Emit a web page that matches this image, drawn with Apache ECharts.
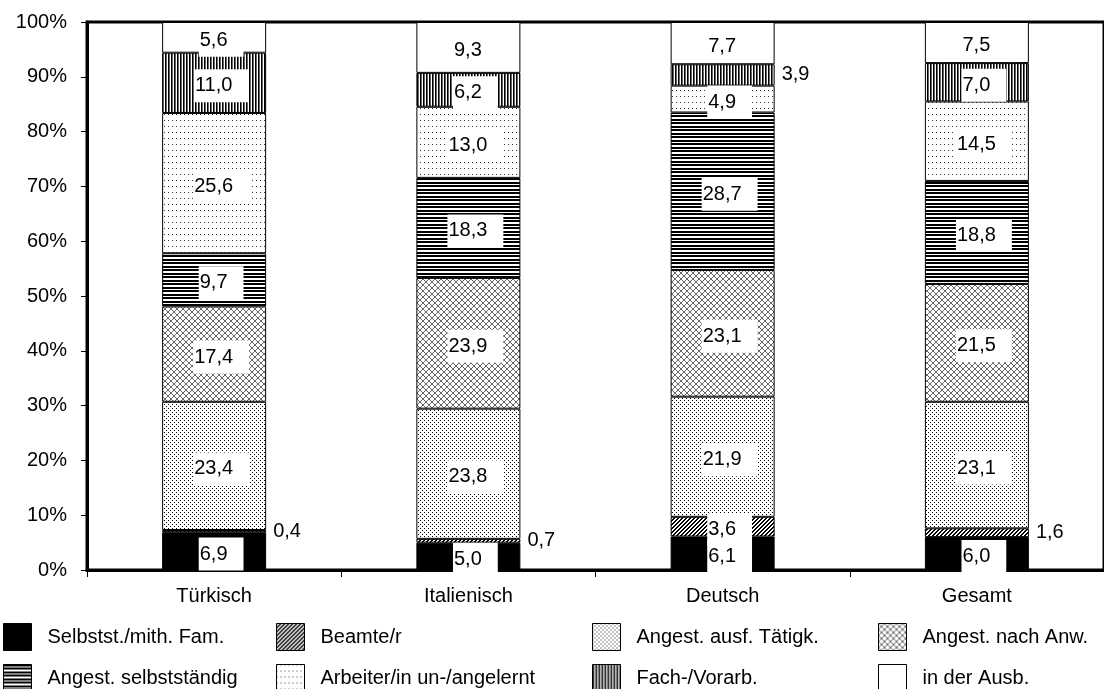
<!DOCTYPE html>
<html><head><meta charset="utf-8">
<script src="https://cdn.jsdelivr.net/npm/echarts@6/dist/echarts.min.js"></script>
<style>html,body{margin:0;padding:0;background:#fff}#c{width:1104px;height:689px}</style>
</head><body><div id="c"></div>
<script>
// ---- data ----
const categories = ['Türkisch', 'Italienisch', 'Deutsch', 'Gesamt'];
const seriesNames = ['Selbstst./mith. Fam.', 'Beamte/r', 'Angest. ausf. Tätigk.', 'Angest. nach Anw.',
  'Angest. selbstständig', 'Arbeiter/in un-/angelernt', 'Fach-/Vorarb.', 'in der Ausb.'];
const selbststaendige = [6.9, 5.0, 6.1, 6.0];
const beamte = [0.4, 0.7, 3.6, 1.6];
const angestAusf = [23.4, 23.8, 21.9, 23.1];
const angestNachAnw = [17.4, 23.9, 23.1, 21.5];
const angestSelbst = [9.7, 18.3, 28.7, 18.8];
const arbeiterUngelernt = [25.6, 13.0, 4.9, 14.5];
const fachVorarb = [11.0, 6.2, 3.9, 7.0];
const inAusbildung = [5.6, 9.3, 7.7, 7.5];
const yTickLabels = ['0%', '10%', '20%', '30%', '40%', '50%', '60%', '70%', '80%', '90%', '100%'];
const allValues = [selbststaendige, beamte, angestAusf, angestNachAnw, angestSelbst, arbeiterUngelernt, fachVorarb, inAusbildung];
// labels drawn beside the bar (series index -> category indices)
const outsideLabels = { 1: [0, 1, 3], 6: [2] };

// ---- patterns ----
function tile(w, h, draw) {
  const c = document.createElement('canvas'); c.width = w; c.height = h;
  const x = c.getContext('2d'); x.fillStyle = '#fff'; x.fillRect(0, 0, w, h);
  x.fillStyle = '#000'; draw(x);
  return { image: c, repeat: 'repeat' };
}
const fills = [
  '#000',
  tile(4, 4, x => { for (let i = 0; i < 4; i++) { x.fillRect(3 - i, i, 1, 1); x.fillRect((4 - i) % 4, i, 1, 1); } }),
  tile(4, 4, x => { x.fillRect(0, 0, 1, 1); x.fillRect(2, 2, 1, 1); }),
  tile(6, 6, x => { x.fillStyle = '#666'; for (let i = 0; i < 6; i++) { x.fillRect(i, i, 1, 1); x.fillRect(5 - i, i, 1, 1); } }),
  tile(1, 7, x => { x.fillRect(0, 0, 1, 2); x.fillRect(0, 3, 1, 2); }),
  tile(4, 6, x => { x.fillStyle = '#333'; x.fillRect(0, 0, 1, 1); }),
  tile(3, 1, x => { x.fillRect(0, 0, 1, 1); x.fillStyle = '#666'; x.fillRect(1, 0, 1, 1); }),
  '#fff'
];

const FONT = 'Liberation Sans, Arial, sans-serif';
const totals = categories.map((_, i) => allValues.reduce((s, a) => s + a[i], 0));
const fmt = v => v.toFixed(1).replace('.', ',');

const series = seriesNames.map((name, si) => ({
  name, type: 'bar', stack: 'all', barWidth: 104,
  itemStyle: { color: fills[si], borderColor: '#000', borderWidth: 1 },
  label: {
    show: true, position: 'inside', color: '#000', fontFamily: FONT, fontSize: 20, lineHeight: 20,
    backgroundColor: '#fff', padding: [3, 16, 10, 1], offset: [7, 3],
    formatter: p => fmt(allValues[p.seriesIndex][p.dataIndex])
  },
  data: allValues[si].map((v, ci) => {
    const item = { value: v / totals[ci] * 100 };
    if (outsideLabels[si] && outsideLabels[si].includes(ci)) {
      item.label = { position: 'right', distance: 7, backgroundColor: 'transparent', padding: 0, offset: [0, 0] };
    }
    return item;
  })
}));

const legendCols = [3, 276, 592, 878];
const legendRows = [623, 664];
const legends = seriesNames.map((name, i) => ({
  data: [name], left: legendCols[i % 4], top: legendRows[Math.floor(i / 4)],
  itemWidth: 28, itemHeight: 27, padding: 0, icon: 'rect', selectedMode: false,
  itemStyle: { borderColor: '#000', borderWidth: 1 },
  textStyle: { fontFamily: FONT, fontSize: 20, color: '#000', padding: [0, 0, 0, 11] }
}));

const chart = echarts.init(document.getElementById('c'), null, { renderer: 'canvas' });
chart.setOption({
  animation: false,
  backgroundColor: '#fff',
  grid: { left: 87, top: 22, width: 1029, bottom: 119, show: true, borderColor: '#000', borderWidth: 3, backgroundColor: 'transparent' },
  legend: legends,
  xAxis: {
    type: 'category', data: categories,
    axisLine: { show: true, lineStyle: { color: '#000', width: 3 } },
    axisTick: { show: true, alignWithLabel: false, interval: 0, length: 7, lineStyle: { color: '#000', width: 1 } },
    axisLabel: { fontFamily: FONT, fontSize: 20, color: '#000', margin: 16, interval: 0 }
  },
  yAxis: {
    type: 'value', min: 0, max: 100, interval: 10,
    axisLine: { show: true, lineStyle: { color: '#000', width: 3 } },
    axisTick: { show: true, length: 6, lineStyle: { color: '#000', width: 1 } },
    splitLine: { show: false },
    axisLabel: { fontFamily: FONT, fontSize: 20, color: '#000', margin: 20,
      formatter: (v) => yTickLabels[Math.round(v / 10)] }
  },
  series
});
</script>
</body></html>
